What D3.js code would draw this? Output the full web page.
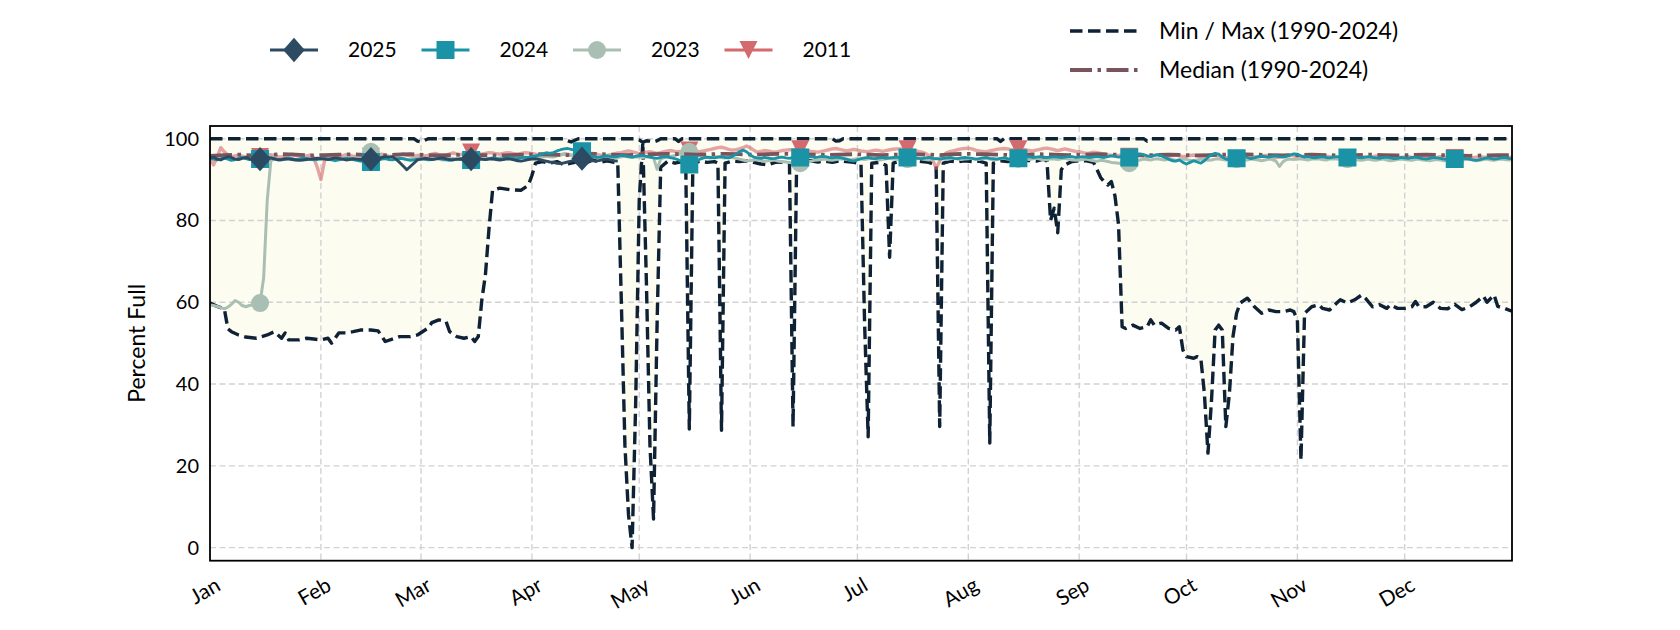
<!DOCTYPE html>
<html><head><meta charset="utf-8">
<script src="https://cdn.jsdelivr.net/npm/d3@7"></script>
<style>
body{margin:0;background:#fff}
svg{display:block}
text{font-family:'Linux Biolinum O','Linux Biolinum',Lato,sans-serif;fill:#000}
</style>
</head><body>
<svg id="chart" width="1680" height="630"></svg>
<script>
// ---------------- DATA ----------------
const monthLabels = ["Jan","Feb","Mar","Apr","May","Jun","Jul","Aug","Sep","Oct","Nov","Dec"];
const monthStartDays = [0,31,59,90,120,151,181,212,243,273,304,334];
const yTickValues = [0,20,40,60,80,100];
const markerDays = [14,45,73,104,134,165,195,226,257,287,318,348];
const yearNames = ["2025","2024","2023","2011"];
const minMaxLabel = "Min / Max (1990-2024)";
const medianLabel = "Median (1990-2024)";

// Min (1990-2024): [day of year, percent full]
const minPairs = [[0,59.8],[2,59],[4,58.4],[5,53.5],[6,52.8],[8,52],[10,51.5],[13,51.2],[16,52],[18,52.8],[20,51.2],[21,52.5],[22,50.8],[25,50.8],[27,51.2],[29,51],[31,50.8],[33,51.2],[34,50],[36,52.5],[38,52.5],[40,52.8],[42,53.2],[45,53.2],[47,53],[49,50.4],[53,51.6],[56,51.6],[58,52],[61,53.7],[62,55],[64,55.7],[66,55.3],[67,52.8],[69,51.6],[71,51.2],[73,51.6],[74,50.4],[75,51.6],[76,60.6],[77,66.7],[78,78],[79,87.4],[81,87.9],[84,87.5],[87,87.4],[89,88.6],[90,91],[91,94],[93,94.4],[95,94],[97,94.4],[99,93.6],[101,94],[103,94.4],[105,94],[107,94.8],[109,94.2],[111,94.6],[113,94.2],[114,94],[115,60],[116,25],[117,8],[118,0],[119,35],[120,85],[121,99],[122,65],[123,25],[124,7],[125,55],[126,93],[128,94.5],[130,94],[132,94.4],[133,94],[134,29],[135,94],[137,94.5],[139,94.2],[141,94.4],[142,94],[143,28.7],[144,94],[146,94.5],[148,94.4],[150,94.6],[152,94.2],[154,93.8],[156,93.6],[158,94.2],[160,94.3],[162,94],[163,29.6],[164,94],[166,94.4],[168,94.6],[170,94.3],[172,94.5],[174,94.2],[176,94.6],[178,94.4],[180,94.2],[182,93.8],[183,55],[184,27.1],[185,94],[187,94.2],[189,93.5],[190,71],[191,94],[193,94.5],[195,94.3],[197,94.6],[199,94.4],[201,94.2],[203,93.5],[204,29.6],[205,94],[207,94.5],[209,94.3],[211,94.6],[213,94.4],[215,94.5],[217,94],[218,25.6],[219,94],[221,94.6],[223,94.4],[225,94.8],[227,94.5],[229,94.7],[231,94.5],[233,95],[234,94.5],[235,80],[236,83],[237,77],[238,92.4],[239,93.6],[241,94.4],[243,94.6],[245,94.6],[247,94.2],[248,92.4],[249,90.5],[250,89.5],[251,88.7],[252,89.5],[253,86],[254,79],[255,54],[256,53.6],[258,54.4],[260,53.6],[262,54],[263,55.7],[264,54.4],[266,54.9],[268,53.6],[270,53.2],[271,54],[272,48.3],[273,46.7],[275,46.3],[276,46.7],[277,46.3],[278,37.7],[279,23.1],[280,36.1],[281,53.2],[282,54.4],[283,53.2],[284,29.6],[285,37.7],[286,51.6],[287,57.3],[288,59.8],[290,61],[292,58.9],[294,57.3],[296,58.1],[298,57.7],[300,57.7],[302,58.1],[303,57.7],[304,55.7],[305,21.4],[306,57.3],[308,58.9],[310,59.4],[311,58.5],[313,58.1],[315,59.8],[316,60.6],[318,59.8],[320,60.6],[322,61.8],[323,61],[325,58.9],[327,59.4],[329,58.5],[330,59.4],[332,58.5],[334,58.5],[336,58.9],[337,60.2],[338,58.9],[340,58.9],[342,60],[344,58.5],[346,58.4],[348,59.5],[350,58.2],[352,58.8],[354,60],[356,61.5],[357,60],[359,61.8],[360,59],[362,58.5],[364,57.8]];

// Max (1990-2024): [day of year, percent full]
const maxPairs = [[0,100],[57,100],[58,99.4],[59,99.2],[60,99.6],[61,100],[99,100],[100,99.5],[101,99.2],[102,99.6],[103,100],[119,100],[120,99.7],[121,99.1],[122,99.5],[123,99.4],[124,99.2],[125,99.5],[126,100],[130,100],[131,99.3],[132,100],[174,100],[175,99.4],[176,99.5],[177,100],[220,100],[221,99.3],[222,100],[261,100],[262,99.4],[263,100],[364,100]];

// Median (1990-2024), one value every 4 days starting Jan 1
const medianEvery4Days = [95.8,96.0,96.1,95.9,96.0,96.2,96.1,95.9,96.0,96.1,
96.2,96.0,95.9,96.1,96.2,96.0,95.9,96.0,96.1,96.0,
95.9,96.0,96.1,96.2,96.1,96.0,96.2,96.3,96.1,96.0,
96.1,96.2,96.3,96.2,96.1,96.2,96.3,96.2,96.1,96.2,
96.3,96.2,96.1,96.0,96.1,96.2,96.1,96.0,96.1,96.2,
96.1,96.0,96.2,96.3,96.2,96.1,96.0,96.1,96.2,96.1,
96.0,96.1,96.2,96.1,96.0,95.9,96.0,96.1,96.0,95.9,
96.0,96.1,96.2,96.1,96.0,95.9,96.0,96.1,96.0,95.9,
96.0,96.1,96.0,95.9,96.0,96.1,96.0,95.9,95.8,95.9,
96.0,96.0];

// Daily values, one row per month
const values2025 = [
[95.3,95.5,95.0,94.8,95.2,95.6,95.4,95.0,94.9,95.2,95.4,95.1,94.9,95.0,95.0,95.2,95.4,95.3,95.0,94.8,94.9,95.1,95.0,94.9,94.8,94.7,94.8,94.9,95.0,95.1,95.2],
[95.1,95.0,94.9,95.1,95.3,95.2,95.0,94.8,94.9,95.1,95.0,94.9,95.0,95.1,95.0,95.2,95.3,95.4,95.6,95.5,95.6,95.0,94.2,93.3,92.4,93.2,94.0,94.8],
[95.0,95.2,95.1,94.9,95.0,95.2,95.3,95.1,94.9,94.8,95.0,95.1,95.0,94.9,95.0,95.1,95.2,95.0,94.9,95.0,95.1,94.9,94.8,94.9,95.1,95.0,94.8,94.6,94.5,94.7,94.9],
[95.0,95.1,94.9,94.7,94.5,94.3,94.2,94.0,93.9,94.1,94.3,94.5,94.7,94.9,95.1,95.0,94.8,94.6,94.5,94.7,94.9,95.0,94.8,94.6,94.5]
].flat();

const values2024 = [
[95.2,95.0,94.8,95.1,95.3,95.0,94.7,94.9,95.2,95.4,95.1,94.9,95.0,95.2,95.0,94.8,95.1,95.3,95.2,94.9,94.8,95.0,95.2,95.1,94.9,95.0,95.3,95.2,95.0,94.8,94.9],
[95.1,95.2,95.0,94.8,94.6,94.8,95.0,95.2,95.1,94.9,94.7,94.5,94.4,94.3,94.3,94.5,94.8,95.0,95.1,94.9,94.8,95.0,95.2,95.1,94.9,94.7,94.8,95.0],
[95.1,95.0,94.8,94.9,95.1,95.2,95.0,94.8,94.7,94.9,95.0,94.9,94.8,94.7,94.8,95.0,95.1,95.0,94.9,95.1,95.3,95.2,95.0,95.1,95.3,95.4,95.2,95.1,95.3,95.5,95.4],
[95.6,95.8,96.0,96.3,96.5,96.4,96.6,97.0,97.3,97.5,97.6,97.4,97.2,97.0,96.9,96.5,96.0,95.6,95.4,95.5,95.7,95.8,95.6,95.5,95.7,95.9,95.8,95.6,95.5,95.7],
[95.8,95.9,95.7,95.5,95.3,95.2,95.4,95.6,95.5,95.3,95.1,94.8,94.4,94.0,93.7,94.0,94.5,95.0,95.3,95.5,95.4,95.3,95.5,95.6,95.4,95.3,95.6,96.2,96.8,97.2,96.8],
[96.0,95.5,95.3,95.2,95.4,95.3,95.1,95.2,95.4,95.5,95.3,95.2,95.4,95.5,95.4,95.3,95.5,95.6,95.4,95.5,95.7,95.6,95.4,95.3,95.5,95.4,95.2,95.0,94.7,94.5],
[94.8,95.1,95.3,95.4,95.2,95.1,95.3,95.4,95.2,95.3,95.4,95.5,95.3,95.2,95.4,95.5,95.3,95.2,95.1,95.3,95.4,95.2,95.1,95.0,95.2,95.3,95.4,95.2,95.1,95.3,95.4],
[95.3,95.2,95.0,95.1,95.3,95.4,95.2,95.1,95.0,95.2,95.3,95.1,95.0,95.2,95.2,95.3,95.5,95.6,95.4,95.5,95.6,95.5,95.4,95.5,95.6,95.5,95.4,95.5,95.7,95.6,95.4],
[95.5,95.6,95.5,95.4,95.5,95.6,95.5,95.4,95.6,95.8,95.7,95.5,95.6,95.5,95.4,95.8,96.2,96.3,96.1,95.8,95.6,95.9,96.1,95.8,95.4,95.0,94.6,94.5,94.8,94.2],
[93.8,94.2,94.6,94.3,94.0,94.6,95.4,96.1,96.4,96.2,95.5,95.0,94.8,95.0,95.2,95.6,95.8,95.4,95.1,95.3,95.6,95.7,95.6,95.5,95.7,95.8,95.6,95.5,95.7,96.0,96.3],
[96.2,95.8,95.5,95.6,95.4,95.3,95.5,95.6,95.4,95.3,95.5,95.6,95.5,95.4,95.4,95.5,95.6,95.4,95.3,95.5,95.6,95.4,95.3,95.2,95.4,95.5,95.3,95.1,95.2,95.4],
[95.3,95.2,95.4,95.5,95.3,95.1,95.0,95.2,95.4,95.3,95.2,95.0,94.9,95.1,95.0,95.2,95.3,95.1,95.0,94.8,94.7,94.9,95.1,95.3,95.2,95.0,95.1,95.3,95.4,95.2,95.1]
].flat();

const values2023 = [
[59.3,59.2,59.0,58.7,58.4,58.8,59.5,60.4,60.0,59.2,58.9,59.2,59.4,59.6,59.8,66.0,85.0,94.5,95.2,95.0,94.8,95.1,95.3,95.0,94.8,94.9,95.2,95.1,94.9,95.0,95.2],
[95.0,95.2,95.3,95.1,94.9,95.0,95.2,95.4,95.3,95.1,95.3,95.6,96.0,96.4,96.8,96.5,96.0,95.6,95.3,95.1,95.0,95.2,95.3,95.1,94.9,95.0,95.2,95.1],
[95.0,94.9,95.1,95.3,95.2,95.0,94.8,94.9,95.1,95.2,95.0,94.9,95.1,95.2,95.1,95.0,94.9,95.1,95.3,95.2,95.0,95.1,95.3,95.4,95.2,95.1,95.3,95.4,95.5,95.3,95.4],
[95.5,95.6,95.4,95.5,95.7,95.6,95.5,95.8,96.0,96.2,96.1,95.9,95.8,95.6,95.5,95.4,95.6,95.7,95.5,95.4,95.6,95.8,95.7,95.5,95.4,95.6,95.7,95.5,95.4,95.6],
[95.5,95.4,95.6,95.5,95.3,92.5,95.0,95.4,95.6,95.7,95.9,96.2,96.5,96.7,96.8,96.6,96.2,95.8,95.5,95.4,95.3,95.5,95.6,95.4,95.3,95.5,95.4,95.2,95.0,94.8,94.6],
[94.6,94.8,94.9,94.7,94.5,94.6,94.8,94.7,94.5,94.4,94.3,94.2,94.1,94.0,94.0,94.1,94.3,94.5,94.7,94.8,94.9,95.0,94.8,94.7,94.9,95.0,95.1,94.9,94.8,95.0],
[95.1,95.0,94.9,95.1,95.2,95.0,94.8,94.9,95.1,95.2,95.0,94.9,95.0,95.1,95.0,94.9,95.1,95.2,95.0,94.9,94.8,95.0,95.1,95.2,95.0,94.9,95.1,95.2,95.0,94.9,95.0],
[95.1,95.2,95.0,94.9,95.1,95.2,95.0,94.8,94.9,95.1,95.2,95.0,94.9,95.0,95.1,95.2,95.0,94.9,95.1,95.2,95.0,94.8,94.9,95.1,95.0,94.9,95.1,95.2,95.0,94.8,94.7],
[94.8,94.9,95.0,94.8,94.6,94.5,94.7,94.6,94.4,94.2,94.1,94.0,93.9,93.9,94.0,94.2,94.5,94.8,95.0,94.9,94.8,95.0,95.1,94.9,94.8,95.0,94.9,94.7,94.8,95.0],
[94.9,94.7,94.6,94.8,95.0,94.9,94.7,94.8,95.0,95.1,94.9,94.8,95.0,95.1,95.0,94.9,94.7,94.8,95.0,94.9,94.8,94.6,94.8,95.0,94.9,94.5,93.2,94.4,94.9,95.0,94.9],
[95.0,95.1,94.9,94.8,95.0,95.1,95.0,94.9,94.8,95.0,95.1,95.0,94.9,94.8,95.0,95.1,94.9,94.8,94.7,94.9,95.0,94.8,94.7,94.9,95.0,94.8,94.6,94.7,94.9,95.0],
[94.9,94.8,94.7,94.9,95.0,94.8,94.7,94.6,94.8,94.9,94.8,94.6,94.7,94.9,95.0,94.8,94.7,94.9,95.0,94.8,94.6,94.7,94.9,95.0,94.8,94.7,94.9,95.0,94.9,94.8,94.9]
].flat();

const values2011 = [
[95.0,93.6,95.5,97.8,96.8,96.0,95.6,95.8,96.0,95.7,95.5,95.8,96.0,95.7,95.5,95.6,95.9,96.1,95.8,95.6,95.5,95.7,96.0,96.2,95.9,95.6,95.5,95.8,96.0,95.4,93.0],
[90.0,94.5,95.8,96.0,95.7,95.5,95.8,96.1,96.0,95.7,95.6,95.8,96.0,95.8,95.6,95.7,96.0,96.2,95.9,95.7,95.6,95.8,96.1,96.3,96.0,95.8,95.7,95.9],
[96.0,95.8,95.9,96.2,96.4,96.1,95.9,96.0,96.3,96.5,96.3,96.1,96.3,96.5,96.6,96.5,96.3,96.2,96.4,96.6,96.5,96.3,96.2,96.4,96.6,96.5,96.3,96.2,96.4,96.6,96.5],
[96.4,96.2,96.0,96.3,96.5,96.4,96.2,96.0,96.1,96.3,96.2,96.0,95.9,96.0,96.2,96.3,96.5,96.4,96.2,96.0,95.8,95.9,96.1,96.3,96.5,96.6,96.8,97.0,96.8,96.6],
[96.3,96.5,96.7,96.8,96.6,96.4,96.6,96.8,97.0,97.1,96.9,96.8,96.9,97.0,97.1,97.0,96.9,96.8,97.0,97.2,97.4,97.6,97.8,97.9,97.7,97.4,97.2,97.3,97.5,97.8,98.2],
[97.8,97.2,96.7,96.9,97.1,97.0,96.8,96.7,96.9,97.1,97.2,97.3,97.3,97.4,97.4,97.3,97.1,96.9,96.8,96.7,96.9,97.1,97.3,97.5,97.6,97.4,97.2,97.0,97.2,97.4],
[97.2,97.0,96.9,96.8,97.0,97.2,97.1,96.9,97.1,97.3,97.4,97.5,97.5,97.4,97.4,97.3,97.1,96.9,96.7,96.4,95.9,94.9,92.8,94.5,95.9,96.6,96.9,97.1,97.3,97.5,97.6],
[97.7,97.5,97.2,97.0,96.9,96.8,97.0,97.2,97.4,97.5,97.6,97.5,97.3,97.3,97.4,97.5,97.3,97.1,97.0,97.2,97.4,97.6,97.7,97.5,97.3,97.1,97.3,97.5,97.3,97.1,96.9],
[96.8,96.6,96.4,96.5,96.7,96.6,96.4,96.2,96.0,95.9,95.8,95.9,96.0,95.8,95.6,95.7,95.9,96.0,95.8,95.6,95.7,95.9,96.1,96.0,95.8,95.7,95.9,96.0,95.8,95.6],
[95.7,95.9,96.0,95.8,95.6,95.7,95.9,96.1,96.0,95.8,95.6,95.4,95.3,95.1,95.0,95.2,95.5,95.7,95.8,95.6,95.5,95.7,95.9,95.8,95.6,95.4,95.5,95.7,95.9,96.0,95.8],
[95.6,95.5,95.7,95.9,95.8,95.6,95.4,95.5,95.7,95.6,95.4,95.3,95.2,95.3,95.3,95.5,95.7,95.8,95.6,95.5,95.4,95.6,95.8,95.7,95.5,95.4,95.6,95.7,95.5,95.4],
[95.5,95.6,95.4,95.3,95.5,95.7,95.6,95.4,95.3,95.4,95.6,95.5,95.4,95.3,95.3,95.5,95.7,95.6,95.4,95.3,95.5,95.6,95.5,95.4,95.3,95.5,95.6,95.4,95.3,95.4,95.5]
].flat();

// ---------------- DRAWING ----------------
const m = {left:210, right:1512, top:126, bottom:560.7};
const svg = d3.select("#chart");

const x = d3.scaleLinear().domain([0,364]).range([m.left, m.right]);
const y = d3.scaleLinear().domain([-3.2,103.1]).range([m.bottom, m.top]);

const C = {
  minmax:"#0f2235", median:"#7a545c", fill:"#fcfcf0", grid:"#d2d2d2",
  y2025:"#2c4b62", y2024:"#1a93a6", y2023:"#aabfb3", y2011:"#d4696e"
};

svg.append("defs").append("clipPath").attr("id","clip")
  .append("rect").attr("x",m.left).attr("y",m.top)
  .attr("width",m.right-m.left).attr("height",m.bottom-m.top);

const plot = svg.append("g").attr("clip-path","url(#clip)");
const lineGen = d3.line().x(d=>x(d[0])).y(d=>y(d[1]));

// band between min and max
const bandPts = maxPairs.concat(minPairs.slice().reverse());
plot.append("path").attr("d", lineGen(bandPts)+"Z").attr("fill",C.fill).attr("stroke","none");

// grid
const gridG = plot.append("g");
gridG.selectAll("line.gx").data(monthStartDays).join("line")
  .attr("x1",d=>x(d)).attr("x2",d=>x(d)).attr("y1",m.top).attr("y2",m.bottom)
  .attr("stroke",C.grid).attr("stroke-width",1.4).attr("stroke-dasharray","6,3.5");
gridG.selectAll("line.gy").data(yTickValues).join("line")
  .attr("x1",m.left).attr("x2",m.right).attr("y1",d=>y(d)).attr("y2",d=>y(d))
  .attr("stroke",C.grid).attr("stroke-width",1.4).attr("stroke-dasharray","6,3.5");

// min / max lines
[minPairs, maxPairs].forEach(p=>{
  plot.append("path").attr("d",lineGen(p)).attr("fill","none")
    .attr("stroke",C.minmax).attr("stroke-width",3.4).attr("stroke-dasharray","12.5,5.5")
    .attr("stroke-linejoin","round");
});

function markerPath(type, s){
  if(type==="diamond") return `M0,${-s*1.35}L${s*1.2},0L0,${s*1.35}L${-s*1.2},0Z`;
  if(type==="square") return `M${-s},${-s}H${s}V${s}H${-s}Z`;
  if(type==="tri") return `M${-s},${-s}H${s}L0,${s}Z`;
  return `M${s},0A${s},${s} 0 1,1 ${-s},0A${s},${s} 0 1,1 ${s},0Z`;
}

const series = [
  {name:"2011", vals:values2011, color:C.y2011, lw:3.4, op:0.6, marker:"tri"},
  {name:"2023", vals:values2023, color:C.y2023, lw:3.0, op:1, marker:"circle"},
  {name:"median"},
  {name:"2024", vals:values2024, color:C.y2024, lw:2.8, op:1, marker:"square"},
  {name:"2025", vals:values2025, color:C.y2025, lw:2.9, op:1, marker:"diamond"}
];

const medianPairs = medianEvery4Days.map((v,i)=>[i*4, v]);

series.forEach(s=>{
  if(s.name==="median"){
    plot.append("path").attr("d",lineGen(medianPairs)).attr("fill","none")
      .attr("stroke",C.median).attr("stroke-width",3.8).attr("stroke-dasharray","22,5.5,3.5,5.5");
    return;
  }
  const pts = s.vals.map((v,i)=>[i,v]);
  const g = plot.append("g");
  g.append("path").attr("d",lineGen(pts)).attr("fill","none")
    .attr("stroke",s.color).attr("stroke-width",s.lw).attr("stroke-opacity",s.op)
    .attr("stroke-linejoin","round");
  const mk = markerDays.filter(d=>d<pts.length).map(d=>pts[d]);
  g.selectAll("path.mk").data(mk).join("path")
    .attr("transform",d=>`translate(${x(d[0])},${y(d[1])})`)
    .attr("d",markerPath(s.marker,9)).attr("fill",s.color);
});

// frame
svg.append("rect").attr("x",m.left).attr("y",m.top)
  .attr("width",m.right-m.left).attr("height",m.bottom-m.top)
  .attr("fill","none").attr("stroke","#000").attr("stroke-width",1.8);

// y tick labels
svg.append("g").selectAll("text").data(yTickValues).join("text")
  .attr("x",m.left-11).attr("y",d=>y(d)).attr("dy","0.35em")
  .attr("text-anchor","end").attr("font-size",20).text(d=>d);

// x tick labels
svg.append("g").selectAll("text").data(monthStartDays).join("text")
  .attr("transform",d=>`translate(${x(d)+4},${m.bottom+15}) rotate(-30)`)
  .attr("text-anchor","end").attr("dy","0.75em").attr("font-size",21)
  .text((d,i)=>monthLabels[i]);

// y axis label
svg.append("text").attr("transform",`translate(137,${(m.top+m.bottom)/2}) rotate(-90)`)
  .attr("text-anchor","middle").attr("dy","0.35em").attr("font-size",23).text("Percent Full");

// legend 1 (years)
const leg = svg.append("g");
yearNames.forEach((nm,i)=>{
  const s = series.find(t=>t.name===nm);
  const x0 = 270 + i*151.5, yy = 50;
  leg.append("line").attr("x1",x0).attr("x2",x0+48).attr("y1",yy).attr("y2",yy)
    .attr("stroke",s.color).attr("stroke-width",3);
  leg.append("path").attr("transform",`translate(${x0+24},${yy})`)
    .attr("d",markerPath(s.marker,9)).attr("fill",s.color);
  leg.append("text").attr("x",x0+78).attr("y",yy).attr("dy","0.35em")
    .attr("font-size",21).text(nm);
});

// legend 2 (historical)
const leg2 = svg.append("g");
leg2.append("line").attr("x1",1070).attr("x2",1142).attr("y1",31).attr("y2",31)
  .attr("stroke",C.minmax).attr("stroke-width",3.4).attr("stroke-dasharray","12.5,5.5");
leg2.append("text").attr("x",1159).attr("y",31).attr("dy","0.35em").attr("font-size",23).text(minMaxLabel);
leg2.append("line").attr("x1",1070).attr("x2",1142).attr("y1",70).attr("y2",70)
  .attr("stroke",C.median).attr("stroke-width",3.8).attr("stroke-dasharray","22,5.5,3.5,5.5");
leg2.append("text").attr("x",1159).attr("y",70).attr("dy","0.35em").attr("font-size",23).text(medianLabel);
</script>
</body></html>
